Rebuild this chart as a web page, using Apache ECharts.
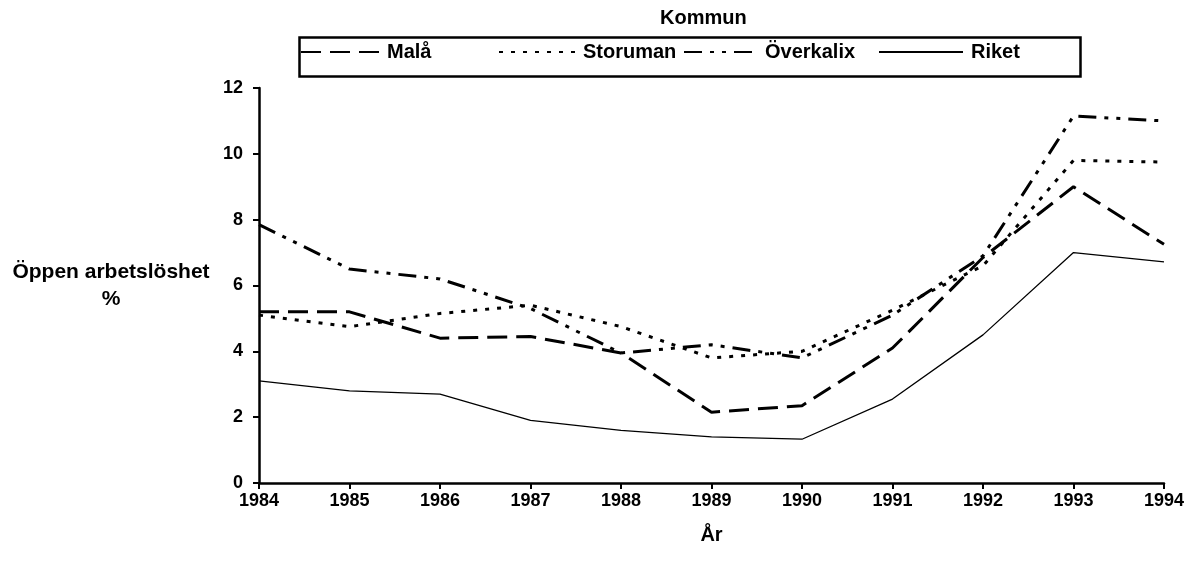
<!DOCTYPE html>
<html>
<head>
<meta charset="utf-8">
<script src="https://cdn.jsdelivr.net/npm/echarts@6/dist/echarts.min.js"></script>
<style>
html,body{margin:0;padding:0;background:#fff;}
#c{width:1190px;height:562px;}
</style>
</head>
<body>
<div id="c"></div>
<script>
const years = ['1984','1985','1986','1987','1988','1989','1990','1991','1992','1993','1994'];
const mala      = [5.2, 5.2, 4.4, 4.45, 3.95, 2.15, 2.35, 4.1, 6.85, 9.0, 7.25];
const storuman  = [5.1, 4.75, 5.15, 5.4, 4.75, 3.8, 4.0, 5.25, 6.6, 9.8, 9.75];
const overkalix = [7.85, 6.5, 6.2, 5.3, 3.95, 4.2, 3.8, 5.1, 6.9, 11.15, 11.0];
const riket     = [3.1, 2.8, 2.7, 1.9, 1.6, 1.4, 1.33, 2.55, 4.5, 7.0, 6.72];
const yTicks = {min: 0, max: 12, interval: 2};

const FONT = '"Liberation Sans", Arial, sans-serif';
const big = {fontFamily: FONT, fontWeight: 'bold', fontSize: 20, color: '#000'};
const small = {fontFamily: FONT, fontWeight: 'bold', fontSize: 18, color: '#000'};

function mkLegend(name, left, w) {
  return {
    data: [name], left: left, top: 42, itemWidth: w, itemHeight: 14, itemGap: 0,
    itemStyle: {opacity: 0},
    textStyle: Object.assign({}, big, {padding: [0,0,0,3]}), selectedMode: false, padding: 0
  };
}

const chart = echarts.init(document.getElementById('c'), null, {renderer: 'canvas'});
chart.setOption({
  animation: false,
  backgroundColor: '#fff',
  title: {text: 'Kommun', left: 660, top: 8, padding: 0, textStyle: Object.assign({}, big)},
  legend: [
    mkLegend('Malå', 300, 78),
    mkLegend('Storuman', 498, 76),
    mkLegend('Överkalix', 683, 73),
    mkLegend('Riket', 878, 84)
  ],
  graphic: [{
    type: 'rect', left: 297, top: 35, shape: {width: 781, height: 39},
    style: {fill: 'none', stroke: '#000', lineWidth: 2.5}, z: -1
  }],
  grid: {left: 259, right: 26, top: 88, bottom: 79},
  xAxis: {
    type: 'category', data: years, boundaryGap: false,
    name: 'År', nameLocation: 'middle', nameGap: 42,
    nameTextStyle: Object.assign({}, big),
    axisLine: {lineStyle: {color: '#000', width: 2.5}},
    axisTick: {alignWithLabel: true, length: 6, lineStyle: {color: '#000', width: 2}},
    axisLabel: Object.assign({}, small, {margin: 9}),
    splitLine: {show: false}
  },
  yAxis: {
    type: 'value', min: yTicks.min, max: yTicks.max, interval: yTicks.interval,
    name: 'Öppen arbetslöshet\n%', nameLocation: 'middle', nameRotate: 0, nameGap: 148,
    nameTextStyle: Object.assign({}, big, {fontSize: 21, align: 'center', verticalAlign: 'middle', lineHeight: 27}),
    axisLine: {show: true, lineStyle: {color: '#000', width: 2.5}},
    axisTick: {show: true, length: 6, lineStyle: {color: '#000', width: 2}},
    axisLabel: Object.assign({}, small, {margin: 16}),
    splitLine: {show: false}
  },
  series: [
    {name: 'Malå', type: 'line', data: mala, symbol: 'none',
     lineStyle: {color: '#000', width: 3, type: [20, 9]}, itemStyle: {color: '#000'}},
    {name: 'Storuman', type: 'line', data: storuman, symbol: 'none',
     lineStyle: {color: '#000', width: 3, type: [4, 8]}, itemStyle: {color: '#000'}},
    {name: 'Överkalix', type: 'line', data: overkalix, symbol: 'none',
     lineStyle: {color: '#000', width: 3, type: [18, 8, 4, 8, 4, 8]}, itemStyle: {color: '#000'}},
    {name: 'Riket', type: 'line', data: riket, symbol: 'none',
     lineStyle: {color: '#000', width: 1.3, type: 'solid'}, itemStyle: {color: '#000'}}
  ]
});
</script>
</body>
</html>
